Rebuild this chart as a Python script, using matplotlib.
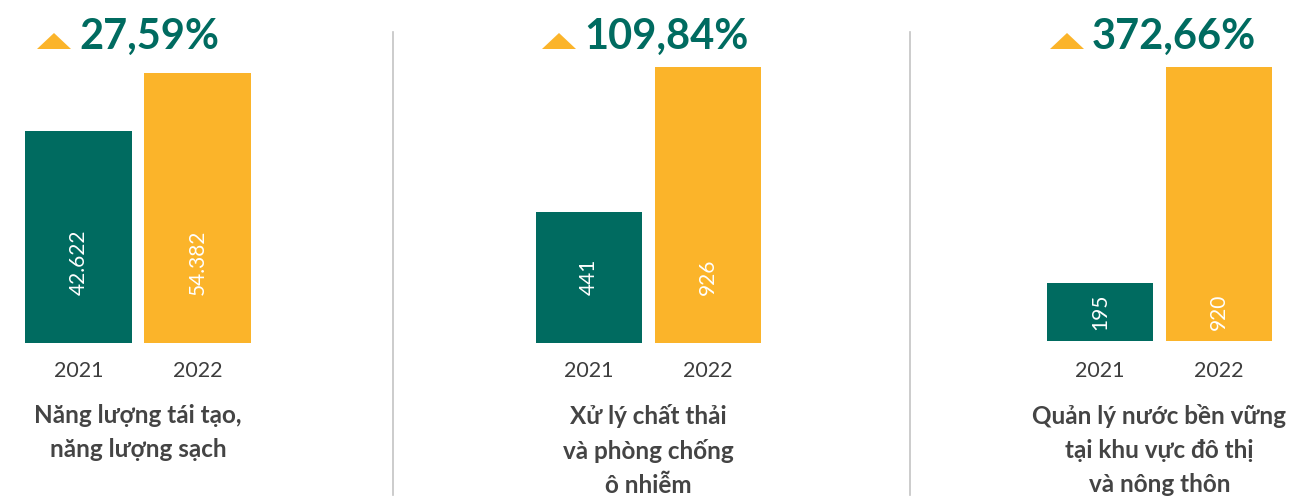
import matplotlib.pyplot as plt
from matplotlib.patches import Polygon
from matplotlib.lines import Line2D

years = ["2021", "2022"]
categories = ["Năng lượng tái tạo,\nnăng lượng sạch",
              "Xử lý chất thải\nvà phòng chống\nô nhiễm",
              "Quản lý nước bền vững\ntại khu vực đô thị\nvà nông thôn"]
values_2021 = [42622, 441, 195]
values_2022 = [54382, 926, 920]
value_labels_2021 = ["42.622", "441", "195"]
value_labels_2022 = ["54.382", "926", "920"]
growth = ["27,59%", "109,84%", "372,66%"]

TEAL = "#006b60"
YELLOW = "#fbb42a"
W, H = 1316, 497

plt.rcParams['font.family'] = ['Lato', 'Noto Sans', 'DejaVu Sans']

fig = plt.figure(figsize=(W / 100, H / 100), dpi=100)

# panel layout in pixels: left edge, right edge, bottom, top of tallest bar
panels = [(25, 251, 343, 73), (536, 761, 343, 67), (1047, 1272, 341, 67)]
label_frac = [0.38, 0.5, 0.5]
head_x = [37, 542, 1050]
bw = 0.895

for i, (x0, x1, yb, yt) in enumerate(panels):
    ax = fig.add_axes([x0 / W, 1 - yb / H, (x1 - x0) / W, (yb - yt) / H])
    vals = [values_2021[i], values_2022[i]]
    ax.bar([0, 1], vals, width=bw, color=[TEAL, YELLOW])
    ax.set_xlim(-bw / 2, 1 + bw / 2)
    ax.set_ylim(0, max(vals))
    ax.axis("off")
    ly = values_2021[i] * label_frac[i]
    for j, lab in enumerate([value_labels_2021[i], value_labels_2022[i]]):
        ax.text(j, ly, lab, rotation=90, ha="center", va="center",
                color="white", fontsize=15)
    for j, yr in enumerate(years):
        ax.text(j, -(371 - yb) / (yb - yt), yr,
                transform=ax.get_xaxis_transform(),
                ha="center", va="center", fontsize=15.5, color="#3d3d3d")
    ax.text(0.5, -(404 - yb) / (yb - yt), categories[i], transform=ax.transAxes,
            ha="center", va="top", fontsize=17.5, fontweight="bold",
            color="#444444", linespacing=1.57)

    # header: triangle + growth percentage
    hx = head_x[i]
    tri = Polygon([[hx / W, 1 - 49 / H], [(hx + 34) / W, 1 - 49 / H],
                   [(hx + 17) / W, 1 - 33 / H]], closed=True,
                  transform=fig.transFigure, color=YELLOW, lw=0)
    fig.add_artist(tri)
    fig.text((hx + 42) / W, 1 - 49 / H, growth[i], ha="left", va="baseline",
             fontsize=30, fontweight="bold", color=TEAL)

for sx in [393, 910]:
    fig.add_artist(Line2D([sx / W, sx / W], [1 - 32 / H, 1 - 495 / H],
                          transform=fig.transFigure, color="#c4c4c4", lw=1.2))

fig.savefig("out.png", dpi=100, facecolor="white")
